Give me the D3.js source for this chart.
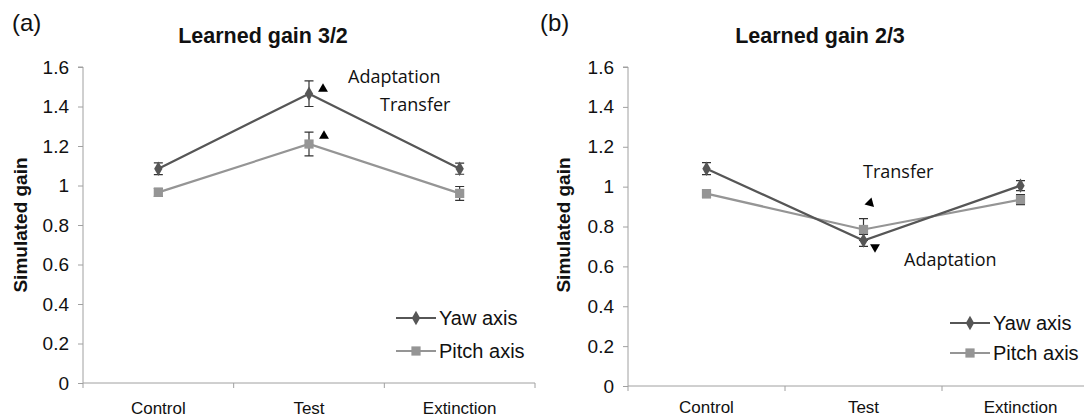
<!DOCTYPE html>
<html>
<head>
<meta charset="utf-8">
<script src="https://cdn.jsdelivr.net/npm/d3@7/dist/d3.min.js"></script>
<style>
  body { margin: 0; background: #fff; }
  svg { display: block; }
</style>
</head>
<body>
<svg id="chart" width="1084" height="418"></svg>
<script>
var categories = ["Control", "Test", "Extinction"];
var yTicks = [0, 0.2, 0.4, 0.6, 0.8, 1, 1.2, 1.4, 1.6];
var seriesNames = ["Yaw axis", "Pitch axis"];

// panel (a) learned gain 3/2
var yawA = [1.085, 1.465, 1.085];
var yawAErr = [0.03, 0.065, 0.028];
var pitchA = [0.965, 1.21, 0.96];
var pitchAErr = [0.02, 0.06, 0.035];

// panel (b) learned gain 2/3
var yawB = [1.09, 0.73, 1.005];
var yawBErr = [0.03, 0.03, 0.025];
var pitchB = [0.965, 0.785, 0.935];
var pitchBErr = [0.02, 0.055, 0.025];

var svg = d3.select("#chart");
var yawColor = "#565656", pitchColor = "#959595";
var sans = "Liberation Sans, Arial, sans-serif";

function drawPanel(opts) {
    var g, x, y, bw, series, legend;
    g = svg.append("g");
    x = d3.scaleBand().domain(categories).range([opts.left, opts.right]).paddingInner(0).paddingOuter(0);
    y = d3.scaleLinear().domain([0, 1.6]).range([opts.bottom, opts.top]);
    bw = x.bandwidth();
    function cx(i) { return x(categories[i]) + bw / 2; }

    // y axis
    var yAxis = g.append("g").attr("transform", "translate(" + opts.left + ",0)")
        .call(d3.axisLeft(y).tickValues(yTicks).tickSize(5).tickPadding(9)
            .tickFormat(function (d) { return d3.format("")(+d.toFixed(1)); }));
    yAxis.select(".domain").attr("stroke", "#a0a0a0").attr("d", "M0," + y(0) + "V" + y(1.6) + "H-5");
    yAxis.selectAll(".tick line").attr("stroke", "#a0a0a0");
    yAxis.selectAll(".tick text").attr("font-family", sans)
        .attr("font-size", 19).attr("fill", "#111");

    // x axis: line with ticks at category boundaries
    g.append("line").attr("x1", opts.left).attr("x2", opts.right)
        .attr("y1", y(0)).attr("y2", y(0)).attr("stroke", "#a0a0a0");
    var bounds = categories.map(function (c) { return x(c); }).concat([opts.right]);
    g.selectAll(".xtick").data(bounds).enter().append("line")
        .attr("x1", function (d) { return d; }).attr("x2", function (d) { return d; })
        .attr("y1", y(0)).attr("y2", y(0) + 5).attr("stroke", "#a0a0a0");
    g.selectAll(".xlab").data(categories).enter().append("text")
        .attr("x", function (d, i) { return cx(i); })
        .attr("y", y(0) + opts.labelOffset)
        .attr("text-anchor", "middle")
        .attr("font-family", sans)
        .attr("font-size", 17).attr("fill", "#111")
        .text(function (d) { return d; });

    // axis title
    g.append("text")
        .attr("transform", "translate(" + opts.yTitleX + "," + opts.yTitleY + ") rotate(-90)")
        .attr("text-anchor", "middle")
        .attr("font-family", sans)
        .attr("font-weight", "bold").attr("font-size", 19).attr("fill", "#111")
        .text("Simulated gain");

    // chart title and panel letter
    g.append("text").attr("x", opts.titleX).attr("y", 43)
        .attr("text-anchor", "middle")
        .attr("font-family", sans)
        .attr("font-weight", "bold").attr("font-size", 21.5).attr("fill", "#111")
        .text(opts.title);
    g.append("text").attr("x", opts.letterX).attr("y", 31)
        .attr("font-family", sans)
        .attr("font-size", 24).attr("fill", "#111")
        .text(opts.letter);

    series = [
        { name: seriesNames[0], values: opts.yaw, err: opts.yawErr, color: yawColor, shape: d3.symbolDiamond },
        { name: seriesNames[1], values: opts.pitch, err: opts.pitchErr, color: pitchColor, shape: d3.symbolSquare }
    ];

    // draw the lighter pitch series first, yaw on top
    series.slice().reverse().forEach(function (s) {
        var line = d3.line().x(function (d, i) { return cx(i); }).y(function (d) { return y(d); });
        g.append("path").datum(s.values).attr("d", line)
            .attr("fill", "none").attr("stroke", s.color).attr("stroke-width", 2.2);
        s.values.forEach(function (v, i) {
            var e = s.err[i], px = cx(i);
            g.append("path")
                .attr("d", "M" + (px - 4.5) + "," + y(v + e) + "H" + (px + 4.5) +
                    "M" + px + "," + y(v + e) + "V" + y(v - e) +
                    "M" + (px - 4.5) + "," + y(v - e) + "H" + (px + 4.5))
                .attr("stroke", "#333").attr("stroke-width", 1.2).attr("fill", "none");
        });
        g.selectAll(null).data(s.values).enter().append("path")
            .attr("d", d3.symbol().type(s.shape).size(s.shape === d3.symbolSquare ? 85 : 60))
            .attr("transform", function (d, i) { return "translate(" + cx(i) + "," + y(d) + ")"; })
            .attr("fill", s.color);
    });

    // legend
    series.forEach(function (s, i) {
        var ly = opts.legendY[i];
        legend = g.append("g").attr("transform", "translate(" + opts.legendX + "," + ly + ")");
        legend.append("line").attr("x1", 0).attr("x2", 40).attr("y1", 0).attr("y2", 0)
            .attr("stroke", s.color).attr("stroke-width", 2.2);
        legend.append("path").attr("d", d3.symbol().type(s.shape).size(s.shape === d3.symbolSquare ? 85 : 60))
            .attr("transform", "translate(20,0)").attr("fill", s.color);
        legend.append("text").attr("x", 43).attr("y", 7)
            .attr("font-family", sans)
            .attr("font-size", 20).attr("fill", "#111")
            .text(s.name);
    });

    // annotations
    opts.notes.forEach(function (n) {
        g.append("text").attr("x", n.x).attr("y", n.y)
            .attr("font-family", "Open Sans, sans-serif").attr("font-size", 18).attr("fill", "#111")
            .text(n.text);
    });
    opts.arrows.forEach(function (a) {
        g.append("path").attr("d", d3.symbol().type(d3.symbolTriangle).size(42))
            .attr("transform", "translate(" + a.x + "," + a.y + ") rotate(" + a.r + ")")
            .attr("fill", "#000");
    });
}

drawPanel({
    left: 83, right: 535, top: 67, bottom: 383, labelOffset: 31,
    yaw: yawA, yawErr: yawAErr, pitch: pitchA, pitchErr: pitchAErr,
    title: "Learned gain 3/2", titleX: 263, letter: "(a)", letterX: 12,
    yTitleX: 27, yTitleY: 225,
    legendX: 396, legendY: [318, 351],
    notes: [{ text: "Adaptation", x: 348, y: 83 }, { text: "Transfer", x: 380, y: 111 }],
    arrows: [{ x: 323, y: 89, r: 0 }, { x: 324, y: 136, r: 0 }]
});

drawPanel({
    left: 628, right: 1099, top: 67, bottom: 386, labelOffset: 27,
    yaw: yawB, yawErr: yawBErr, pitch: pitchB, pitchErr: pitchBErr,
    title: "Learned gain 2/3", titleX: 820, letter: "(b)", letterX: 540,
    yTitleX: 570, yTitleY: 225,
    legendX: 950, legendY: [323, 353],
    notes: [{ text: "Transfer", x: 863, y: 178 }, { text: "Adaptation", x: 904, y: 266 }],
    arrows: [{ x: 870, y: 203, r: 15 }, { x: 875, y: 247, r: 180 }]
});
</script>
</body>
</html>
